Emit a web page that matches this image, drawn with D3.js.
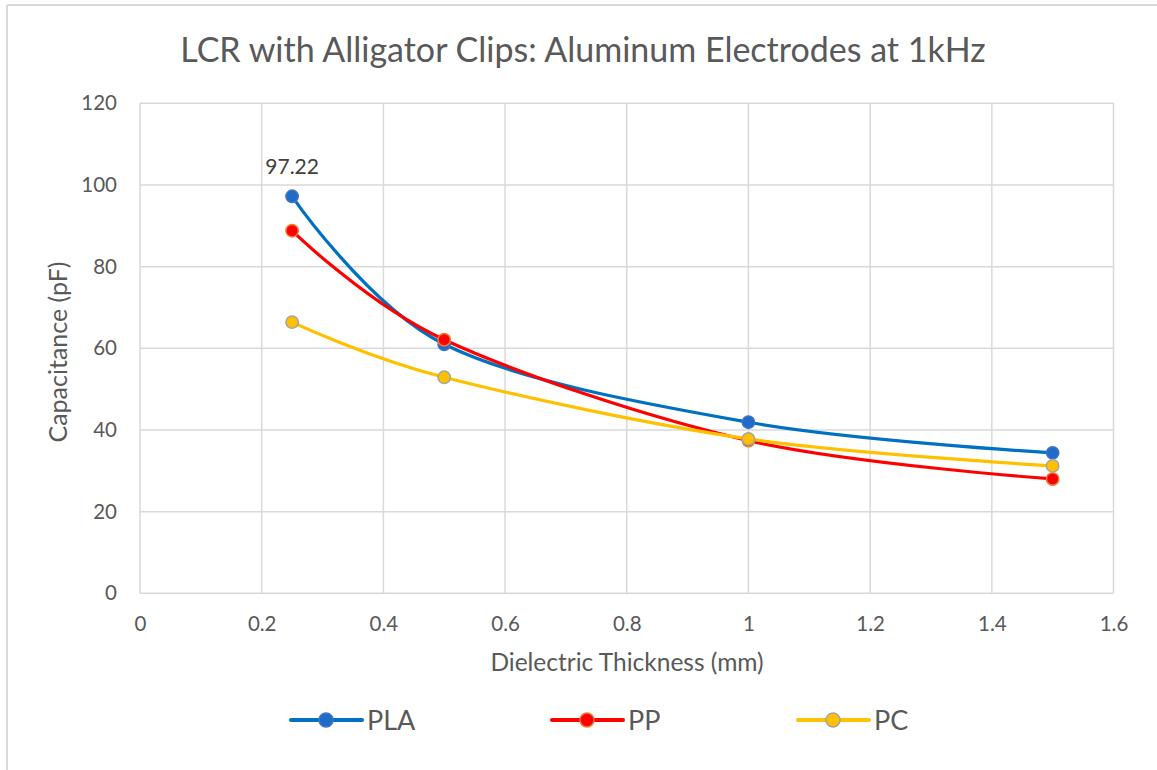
<!DOCTYPE html>
<html>
<head>
<meta charset="utf-8">
<script src="https://cdn.jsdelivr.net/npm/d3@7"></script>
<style>
  html, body { margin: 0; padding: 0; background: #fff; }
  svg { display: block; font-family: Lato, "Open Sans", sans-serif; }
</style>
</head>
<body>
<svg id="chart" width="1157" height="770"></svg>
<script>
// Dielectric thickness (mm) and measured capacitance (pF) per material
const thickness = [0.25, 0.5, 1, 1.5];
const plaValues = [97.22, 61.0, 41.9, 34.4];
const ppValues  = [88.8, 62.1, 37.4, 28.0];
const pcValues  = [66.4, 52.9, 37.8, 31.2];
const seriesNames = ["PLA", "PP", "PC"];
const xTicks = [0, 0.2, 0.4, 0.6, 0.8, 1, 1.2, 1.4, 1.6];
const yTicks = [0, 20, 40, 60, 80, 100, 120];

const styles = {
  PLA: { line: "#0070C0", fill: "#1F6BCA", stroke: "#4472C4" },
  PP:  { line: "#FF0000", fill: "#FF0000", stroke: "#ED7D31" },
  PC:  { line: "#FFC000", fill: "#FFC000", stroke: "#A5A5A5" }
};
const valuesByName = { PLA: plaValues, PP: ppValues, PC: pcValues };

const svg = d3.select("#chart");
const plotLeft = 140, plotRight = 1113.5, plotTop = 103.3, plotBottom = 593.3;

const x = d3.scaleLinear().domain([0, 1.6]).range([plotLeft, plotRight]);
const y = d3.scaleLinear().domain([0, 120]).range([plotBottom, plotTop]);

// chart frame edges
svg.append("line").attr("x1", 7).attr("x2", 7).attr("y1", 5).attr("y2", 770)
  .attr("stroke", "#D9D9D9").attr("stroke-width", 2);
svg.append("line").attr("x1", 7).attr("x2", 1157).attr("y1", 5).attr("y2", 5)
  .attr("stroke", "#D9D9D9").attr("stroke-width", 2);

// title
svg.append("text").attr("x", 583).attr("y", 62).attr("text-anchor", "middle")
  .attr("font-size", 34).attr("fill", "#595959")
  .text("LCR with Alligator Clips: Aluminum Electrodes at 1kHz");

// gridlines
const grid = svg.append("g");
grid.selectAll(".hg").data(yTicks).join("line")
  .attr("x1", plotLeft).attr("x2", plotRight)
  .attr("y1", d => y(d)).attr("y2", d => y(d))
  .attr("stroke", "#D9D9D9").attr("stroke-width", 1.5);
grid.selectAll(".vg").data(xTicks).join("line")
  .attr("x1", d => x(d)).attr("x2", d => x(d))
  .attr("y1", plotTop).attr("y2", plotBottom)
  .attr("stroke", "#D9D9D9").attr("stroke-width", 1.5);

// axes (labels only; lines come from the gridlines)
const xAxis = svg.append("g").attr("transform", `translate(0,${plotBottom})`)
  .call(d3.axisBottom(x).tickValues(xTicks).tickSize(0).tickPadding(23).tickFormat(d3.format("")));
const yAxis = svg.append("g").attr("transform", `translate(${plotLeft},0)`)
  .call(d3.axisLeft(y).tickValues(yTicks).tickSize(0).tickPadding(23));
[xAxis, yAxis].forEach(a => {
  a.select(".domain").remove();
  a.selectAll("text").attr("font-size", 20.5).attr("fill", "#595959")
    .attr("font-family", "Lato, 'Open Sans', sans-serif");
});

// axis titles
svg.append("text").attr("x", 627).attr("y", 671).attr("text-anchor", "middle")
  .attr("font-size", 24.5).attr("fill", "#595959").text("Dielectric Thickness (mm)");
svg.append("text").attr("transform", "translate(67,352) rotate(-90)")
  .attr("text-anchor", "middle").attr("font-size", 25).attr("fill", "#595959")
  .text("Capacitance (pF)");

// smoothed series lines
const line = d3.line()
  .x(d => x(d[0])).y(d => y(d[1]))
  .curve(d3.curveCatmullRom.alpha(0));

seriesNames.forEach(name => {
  const pts = thickness.map((t, i) => [t, valuesByName[name][i]]);
  svg.append("path").datum(pts).attr("d", line)
    .attr("fill", "none").attr("stroke", styles[name].line)
    .attr("stroke-width", 3.2).attr("stroke-linejoin", "round");
});
seriesNames.forEach(name => {
  const pts = thickness.map((t, i) => [t, valuesByName[name][i]]);
  svg.append("g").selectAll("circle").data(pts).join("circle")
    .attr("cx", d => x(d[0])).attr("cy", d => y(d[1])).attr("r", 6.2)
    .attr("fill", styles[name].fill).attr("stroke", styles[name].stroke)
    .attr("stroke-width", 1.5);
});

// data label on the first PLA point
svg.append("text").attr("x", x(thickness[0])).attr("y", y(plaValues[0]) - 22)
  .attr("text-anchor", "middle").attr("font-size", 21).attr("fill", "#404040")
  .text(plaValues[0].toFixed(2));

// legend
const legendX = [291, 552, 798];
const legend = svg.append("g");
seriesNames.forEach((name, i) => {
  const g = legend.append("g").attr("transform", `translate(${legendX[i]},720)`);
  g.append("line").attr("x1", 0).attr("x2", 71).attr("y1", 0).attr("y2", 0)
    .attr("stroke", styles[name].line).attr("stroke-width", 4).attr("stroke-linecap", "round");
  g.append("circle").attr("cx", 35).attr("cy", 0).attr("r", 7)
    .attr("fill", styles[name].fill).attr("stroke", styles[name].stroke).attr("stroke-width", 1.5);
  g.append("text").attr("x", 76).attr("y", 10).attr("font-size", 27).attr("fill", "#595959").text(name);
});
</script>
</body>
</html>
